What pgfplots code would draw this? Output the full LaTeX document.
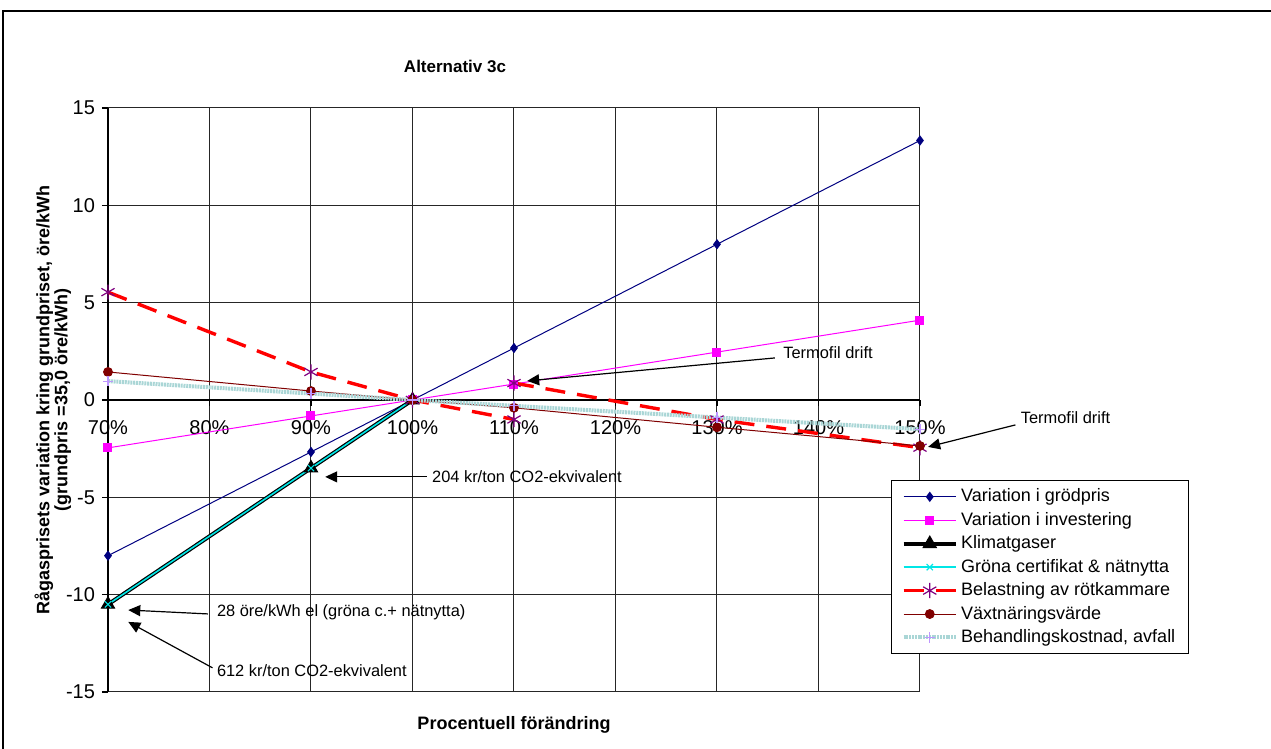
\documentclass[border=0pt]{standalone}
\usepackage{pgfplots}
\pgfplotsset{compat=1.18}
\usepackage{fontspec}
\setmainfont{Liberation Sans}
\usetikzlibrary{arrows.meta}

\definecolor{cNavy}{RGB}{0,0,128}
\definecolor{cMag}{RGB}{255,0,255}
\definecolor{cCyan}{RGB}{0,230,230}
\definecolor{cRed}{RGB}{255,0,0}
\definecolor{cPurp}{RGB}{128,0,128}
\definecolor{cDRed}{RGB}{128,0,0}
\definecolor{cTeal}{RGB}{170,214,214}
\definecolor{cLav}{RGB}{190,150,255}

\begin{document}
\begin{tikzpicture}[x=1pt,y=1pt]
\path[use as bounding box] (0,0) rectangle (635.5,374.5);
% outer chart frame
\draw[line width=1pt] (1.5,-10) -- (1.5,369) -- (650,369);

\begin{axis}[
  at={(54pt,28.5pt)}, anchor=south west,
  scale only axis, width=406pt, height=292pt,
  xmin=70, xmax=150, ymin=-15, ymax=15,
  axis x line*=middle, axis y line*=left,
  hide obscured x ticks=false,
  tick align=outside,
  major tick length=3pt,
  xtick={70,80,90,100,110,120,130,140,150},
  xticklabels={70\%,80\%,90\%,100\%,110\%,120\%,130\%,140\%,150\%},
  ytick={-15,-10,-5,0,5,10,15},
  yticklabels={-15,-10,-5,0,5,10,15},
  ticklabel style={font=\fontsize{10}{11}\selectfont},
  xticklabel style={yshift=-3.5pt},
  grid=major,
  grid style={black!85, line width=0.5pt},
  axis line style={black, line width=0.6pt},
  tick style={black, line width=0.6pt},
  clip=false,
  legend style={at={(0.9643,0.363)}, anchor=north west,
    draw=black, line width=0.6pt, fill=white,
    font=\fontsize{9}{10.5}\selectfont,
    inner xsep=5pt, inner ysep=2.5pt, row sep=0.5pt,
    nodes={inner sep=1.6pt}},
  legend cell align=left,
  legend image code/.code={%
    \draw[mark repeat=2,mark phase=2,#1] plot coordinates {(0cm,0cm) (0.46cm,0cm) (0.92cm,0cm)};},
]

\addplot[cNavy, line width=0.5pt, mark=diamond*, mark size=2.2pt, mark options={fill=cNavy}]
  coordinates {(70,-8.0) (90,-2.67) (100,0) (110,2.67) (130,8.0) (150,13.33)};
\addlegendentry{Variation i grödpris}

\addplot[cMag, line width=0.5pt, mark=square*, mark size=2pt, mark options={fill=cMag}]
  coordinates {(70,-2.46) (90,-0.82) (100,0) (110,0.82) (130,2.46) (150,4.1)};
\addlegendentry{Variation i investering}

\addplot[black, line width=2pt, mark=triangle*, mark size=3.8pt, mark options={fill=black, line width=0.5pt}]
  coordinates {(70,-10.5) (90,-3.5) (100,0)};
\addlegendentry{Klimatgaser}

\addplot[cCyan, line width=0.8pt, mark=x, mark size=2.2pt, mark options={line width=0.6pt}]
  coordinates {(70,-10.5) (90,-3.5) (100,0)};
\addlegendentry{Gröna certifikat \& nätnytta}

\addplot[cRed, line width=1.7pt, dash pattern=on 10pt off 6pt, mark=asterisk, mark size=3.8pt,
  mark options={draw=cPurp, solid, line width=0.6pt}]
  coordinates {(70,5.54) (90,1.44) (100,0) (110,-1.0)};
\addlegendentry{Belastning av rötkammare}

\addplot[cRed, line width=1.7pt, dash pattern=on 10pt off 6pt, mark=asterisk, mark size=3.8pt,
  mark options={draw=cPurp, solid, line width=0.6pt}, forget plot]
  coordinates {(110,0.87) (130,-1.0) (150,-2.45)};

\addplot[cDRed, line width=0.5pt, mark=*, mark size=2.2pt, mark options={fill=cDRed}]
  coordinates {(70,1.44) (90,0.46) (100,0) (110,-0.4) (130,-1.4) (150,-2.36)};
\addlegendentry{Växtnäringsvärde}

\addplot[cTeal, line width=2pt, dash pattern=on 1pt off 0.4pt, mark=+, mark size=2.6pt,
  mark options={draw=cLav, solid, line width=0.6pt}]
  coordinates {(70,0.97) (90,0.33) (100,0) (110,-0.3) (130,-0.9) (150,-1.5)};
\addlegendentry{Behandlingskostnad, avfall}

% annotations
\tikzset{ann/.style={anchor=west, inner sep=0pt, font=\fontsize{8.2}{9}\selectfont},
         arr/.style={black, line width=0.6pt, -{Triangle[length=6pt,width=5.5pt]}}}
\draw[arr] (axis cs:135.7,2.16) -- (axis cs:111.3,0.98);
\node[ann] at (axis cs:136.5,2.41) {Termofil drift};
\draw[arr] (axis cs:159.4,-1.28) -- (axis cs:150.8,-2.41);
\node[ann] at (axis cs:159.9,-0.92) {Termofil drift};
\draw[arr] (axis cs:101.4,-3.95) -- (axis cs:91.4,-3.95);
\node[ann] at (axis cs:101.9,-3.95) {204 kr/ton CO2-ekvivalent};
\draw[arr] (axis cs:79.85,-10.99) -- (axis cs:72,-10.79);
\node[ann] at (axis cs:80.7,-10.9) {28 öre/kWh el (gröna c.+ nätnytta)};
\draw[arr] (axis cs:80.3,-13.76) -- (axis cs:72,-11.4);
\node[ann] at (axis cs:80.7,-13.9) {612 kr/ton CO2-ekvivalent};
\end{axis}

\node[font=\bfseries\fontsize{8.5}{10}\selectfont] at (227.5,341.5) {Alternativ 3c};
\node[font=\bfseries\fontsize{9}{10}\selectfont] at (257,12) {Procentuell förändring};
\node[font=\bfseries\fontsize{9}{9}\selectfont, rotate=90, align=center] at (26.5,174.5)
  {Rågasprisets variation kring grundpriset, öre/kWh\\(grundpris =35,0 öre/kWh)};
\end{tikzpicture}
\end{document}
